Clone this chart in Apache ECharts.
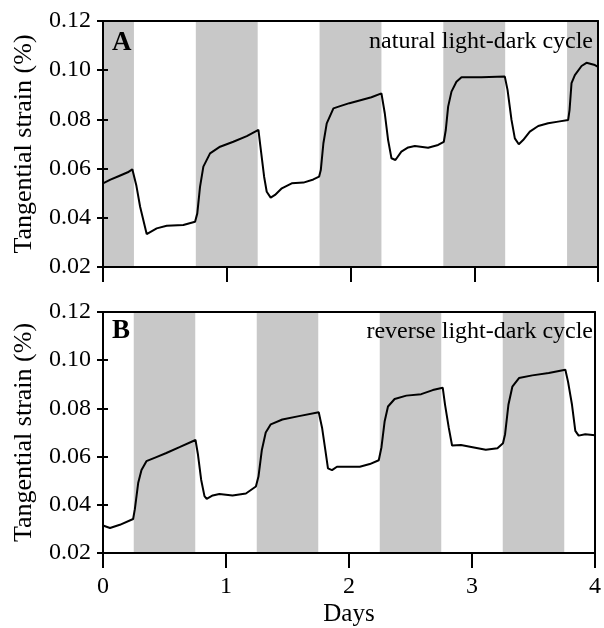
<!DOCTYPE html>
<html>
<head>
<meta charset="utf-8">
<script src="https://cdn.jsdelivr.net/npm/echarts@6/dist/echarts.min.js"></script>
<style>
html,body{margin:0;padding:0;background:#fff;}
#chart{width:604px;height:628px;}
</style>
</head>
<body>
<div id="chart"></div>
<script>
// ---- data ----
const dayA = [0.0,0.06,0.13,0.2,0.237,0.27,0.30,0.353,0.434,0.515,0.649,0.744,0.762,0.784,0.811,0.865,0.946,1.053,1.162,1.256,1.269,1.302,1.323,1.355,1.39,1.445,1.525,1.62,1.70,1.746,1.76,1.781,1.808,1.862,1.916,1.991,2.088,2.169,2.25,2.277,2.304,2.331,2.363,2.411,2.466,2.52,2.627,2.708,2.754,2.77,2.789,2.816,2.856,2.897,3.058,3.247,3.269,3.301,3.328,3.36,3.395,3.449,3.517,3.597,3.678,3.759,3.77,3.786,3.813,3.867,3.907,3.975,4.0];
const strainA = [0.054,0.0555,0.057,0.0585,0.0597,0.053,0.0445,0.0334,0.0357,0.0368,0.0371,0.0384,0.0418,0.0526,0.0608,0.0662,0.0689,0.0709,0.0732,0.0757,0.0703,0.0567,0.0506,0.0482,0.0493,0.0520,0.0540,0.0543,0.0556,0.0567,0.0594,0.0703,0.0784,0.0845,0.0854,0.0866,0.0879,0.0890,0.0906,0.0825,0.0716,0.0642,0.0635,0.0669,0.0686,0.0692,0.0685,0.0696,0.0709,0.0757,0.0852,0.0913,0.0953,0.0971,0.0971,0.0974,0.0920,0.0798,0.0723,0.0699,0.0716,0.0750,0.0773,0.0784,0.0791,0.0798,0.0838,0.0947,0.0980,0.1017,0.1030,0.1021,0.1014];
const dayB = [0.0,0.057,0.137,0.245,0.259,0.286,0.313,0.353,0.434,0.515,0.622,0.752,0.771,0.798,0.825,0.843,0.892,0.946,1.053,1.162,1.243,1.264,1.291,1.323,1.364,1.458,1.593,1.754,1.781,1.808,1.829,1.862,1.902,1.997,2.088,2.169,2.242,2.264,2.29,2.317,2.371,2.466,2.587,2.681,2.762,2.781,2.811,2.838,2.91,3.005,3.112,3.207,3.252,3.269,3.296,3.328,3.382,3.49,3.624,3.759,3.781,3.813,3.84,3.867,3.921,4.0];
const strainB = [0.0314,0.0304,0.0317,0.0341,0.0382,0.0490,0.0544,0.0581,0.0598,0.0615,0.0639,0.0669,0.0612,0.0504,0.0436,0.0425,0.0439,0.0445,0.0439,0.0447,0.0476,0.0517,0.0626,0.0700,0.0734,0.0754,0.0768,0.0784,0.0720,0.0626,0.0551,0.0544,0.0558,0.0558,0.0558,0.0569,0.0585,0.0639,0.0747,0.0808,0.0839,0.0853,0.0859,0.0876,0.0886,0.0815,0.0720,0.0646,0.0648,0.0639,0.0628,0.0635,0.0655,0.0693,0.0815,0.0890,0.0926,0.0937,0.0947,0.0960,0.0910,0.0815,0.0707,0.0687,0.0693,0.0689];
const darkA = [[0,0.25],[0.75,1.25],[1.75,2.25],[2.75,3.25],[3.75,4]];
const darkB = [[0.25,0.75],[1.25,1.75],[2.25,2.75],[3.25,3.75]];
const yTicks = {min:0.02, max:0.12, interval:0.02};
const xTicks = {min:0, max:4, interval:1};
const yTitle = 'Tangential strain (%)';
const xTitle = 'Days';
const panelLabels = ['A','B'];
const panelNotes = ['natural light-dark cycle','reverse light-dark cycle'];

const FONT = '"Liberation Serif","Times New Roman",serif';
const chart = echarts.init(document.getElementById('chart'), null, {renderer:'canvas'});

const grids = [
  {left:103, right:6, top:21, height:246},
  {left:103, right:6, top:312, height:246}
];
const xAxes = [], yAxes = [], series = [];
grids.forEach((g, i) => {
  const isBottom = i === 1;
  xAxes.push({
    type:'value', gridIndex:i, min:xTicks.min, max:xTicks.max, interval:xTicks.interval, z:10,
    axisLine:{show:true, onZero:false, lineStyle:{color:'#000', width:2}},
    axisTick:{show:true, inside:false, length:15, lineStyle:{color:'#000', width:2}},
    axisLabel:{show:isBottom, margin:22, color:'#000', fontFamily:FONT, fontSize:24},
    splitLine:{show:false},
    name:isBottom ? xTitle : '', nameLocation:'middle', nameGap:49,
    nameTextStyle:{color:'#000', fontFamily:FONT, fontSize:25}
  });
  xAxes.push({
    type:'value', gridIndex:i, position:'top', min:xTicks.min, max:xTicks.max, z:10,
    axisLine:{show:true, onZero:false, lineStyle:{color:'#000', width:2}},
    axisTick:{show:false}, axisLabel:{show:false}, splitLine:{show:false}
  });
  yAxes.push({
    type:'value', gridIndex:i, position:'left', min:yTicks.min, max:yTicks.max, interval:yTicks.interval, z:10,
    axisLine:{show:true, onZero:false, lineStyle:{color:'#000', width:2}},
    axisTick:{show:true, inside:false, length:6, lineStyle:{color:'#000', width:2}},
    axisLabel:{margin:12, color:'#000', fontFamily:FONT, fontSize:24, formatter:v => v.toFixed(2)},
    splitLine:{show:false},
    name:yTitle, nameLocation:'middle', nameGap:66,
    nameTextStyle:{color:'#000', fontFamily:FONT, fontSize:26}
  });
  yAxes.push({
    type:'value', gridIndex:i, position:'left', min:yTicks.min, max:yTicks.max, interval:yTicks.interval, z:10,
    axisLine:{show:false},
    axisTick:{show:true, inside:true, length:5, lineStyle:{color:'#000', width:2}},
    axisLabel:{show:false}, splitLine:{show:false}
  });
  yAxes.push({
    type:'value', gridIndex:i, position:'right', min:yTicks.min, max:yTicks.max, z:10,
    axisLine:{show:true, onZero:false, lineStyle:{color:'#000', width:2}},
    axisTick:{show:false}, axisLabel:{show:false}, splitLine:{show:false}
  });
});

function bandSeries(bands, xi, yi) {
  return {
    type:'line', xAxisIndex:xi, yAxisIndex:yi, data:[], z:1, silent:true,
    markArea:{silent:true, itemStyle:{color:'#c8c8c8'},
      data: bands.map(b => [{xAxis:b[0], yAxis:yTicks.min}, {xAxis:b[1], yAxis:yTicks.max}])}
  };
}
function lineSeries(xs, ys, xi, yi) {
  return {
    type:'line', xAxisIndex:xi, yAxisIndex:yi, z:3, showSymbol:false, animation:false,
    lineStyle:{color:'#000', width:2}, data: xs.map((d, k) => [d, ys[k]])
  };
}
series.push(bandSeries(darkA, 0, 0));
series.push(lineSeries(dayA, strainA, 0, 0));
series.push(bandSeries(darkB, 2, 3));
series.push(lineSeries(dayB, strainB, 2, 3));

const graphic = [
  {type:'text', left:112, top:30, z:20, style:{text:panelLabels[0], font:'bold 27px ' + FONT, fill:'#000'}},
  {type:'text', right:11, top:30, z:20, style:{text:panelNotes[0], font:'24px ' + FONT, fill:'#000'}},
  {type:'text', left:112, top:318, z:20, style:{text:panelLabels[1], font:'bold 27px ' + FONT, fill:'#000'}},
  {type:'text', right:11, top:320, z:20, style:{text:panelNotes[1], font:'24px ' + FONT, fill:'#000'}}
];

chart.setOption({
  animation:false,
  backgroundColor:'#fff',
  grid:grids, xAxis:xAxes, yAxis:yAxes, series:series, graphic:graphic
});
</script>
</body>
</html>
